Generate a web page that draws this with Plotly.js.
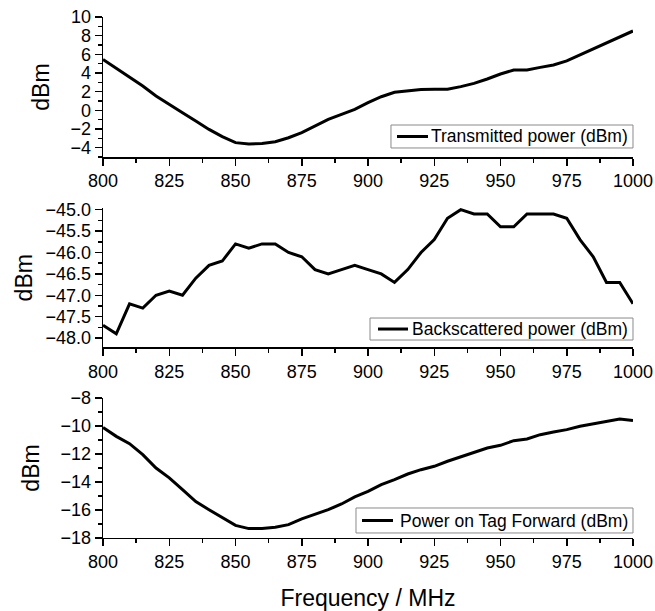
<!DOCTYPE html>
<html>
<head>
<meta charset="utf-8">
<script src="https://cdn.plot.ly/plotly-3.0.1.min.js"></script>
<style>html,body{margin:0;padding:0;background:#fff;}#chart{width:655px;height:611px;}</style>
</head>
<body>
<div id="chart"></div>
<script>
const frequency = [800,805,810,815,820,825,830,835,840,845,850,855,860,865,870,875,880,885,890,895,900,905,910,915,920,925,930,935,940,945,950,955,960,965,970,975,980,985,990,995,1000];

const transmittedPower = [5.46,4.5,3.6,2.6,1.54,0.68,-0.25,-1.14,-2.04,-2.82,-3.46,-3.6,-3.54,-3.36,-2.93,-2.39,-1.68,-0.96,-0.43,0.11,0.82,1.46,1.93,2.11,2.22,2.25,2.25,2.54,2.89,3.36,3.89,4.32,4.32,4.6,4.86,5.29,5.93,6.64,7.29,7.89,8.5];

const backscatteredPower = [-47.7,-47.9,-47.2,-47.3,-47.0,-46.9,-47.0,-46.6,-46.3,-46.2,-45.8,-45.9,-45.8,-45.8,-46.0,-46.1,-46.4,-46.5,-46.4,-46.3,-46.4,-46.5,-46.7,-46.4,-46.0,-45.7,-45.2,-45.0,-45.1,-45.1,-45.4,-45.4,-45.1,-45.1,-45.1,-45.2,-45.7,-46.1,-46.7,-46.7,-47.2];

const tagForwardPower = [-10.1,-10.74,-11.26,-12.05,-13.0,-13.7,-14.55,-15.4,-15.98,-16.57,-17.1,-17.33,-17.33,-17.24,-17.05,-16.64,-16.33,-15.98,-15.57,-15.07,-14.67,-14.19,-13.83,-13.43,-13.12,-12.88,-12.52,-12.21,-11.93,-11.57,-11.38,-11.05,-10.93,-10.62,-10.43,-10.26,-10.02,-9.83,-9.67,-9.5,-9.6];

const seriesNames = ["Transmitted power (dBm)", "Backscattered power (dBm)", "Power on Tag Forward (dBm)"];
const yTitle = "dBm";
const xTitle = "Frequency / MHz";

const FONT = "Liberation Sans, Arial, sans-serif";
const lineStyle = {color: "#000", width: 3};

const traces = [
  {x: frequency, y: transmittedPower, name: seriesNames[0], type: "scatter", mode: "lines", line: lineStyle, xaxis: "x", yaxis: "y"},
  {x: frequency, y: backscatteredPower, name: seriesNames[1], type: "scatter", mode: "lines", line: lineStyle, xaxis: "x2", yaxis: "y2"},
  {x: frequency, y: tagForwardPower, name: seriesNames[2], type: "scatter", mode: "lines", line: lineStyle, xaxis: "x3", yaxis: "y3"}
];

function xAxis(anchor, withTitle) {
  const a = {
    domain: [0.1573, 0.9664], anchor: anchor, range: [800, 1000],
    tick0: 800, dtick: 25, ticks: "outside", ticklen: 7, tickwidth: 1.5, tickcolor: "#000",
    showline: true, linecolor: "#000", linewidth: 1.5, showgrid: false, zeroline: false,
    tickfont: {family: FONT, size: 18, color: "#000"},
    minor: {dtick: 12.5, tick0: 800, ticks: "outside", ticklen: 4, tickwidth: 1.5, tickcolor: "#000", showgrid: false}
  };
  if (withTitle) a.title = {text: xTitle, font: {family: FONT, size: 23, color: "#000"}, standoff: 20};
  return a;
}

function yAxis(anchor, domain, range, dtick, minorDtick, fmt, tick0, standoff) {
  return {
    domain: domain, anchor: anchor, range: range,
    tick0: tick0, dtick: dtick, tickformat: fmt,
    ticks: "outside", ticklen: 7, tickwidth: 1.5, tickcolor: "#000",
    showline: true, linecolor: "#000", linewidth: 1.5, showgrid: false, zeroline: false,
    tickfont: {family: FONT, size: 18, color: "#000"},
    title: {text: yTitle, font: {family: FONT, size: 23, color: "#000"}, standoff: standoff},
    minor: {dtick: minorDtick, tick0: tick0, ticks: "outside", ticklen: 4, tickwidth: 1.5, tickcolor: "#000", showgrid: false}
  };
}

// Legend boxes drawn as paper-anchored shapes + text (box: [x0,x1,y0,y1], sample line x0,x1, centre y)
const legendBoxes = [
  {box: [0.5969, 0.9664, 0.7578, 0.7954], sample: [0.6061, 0.6534], cy: 0.7766},
  {box: [0.5649, 0.9664, 0.4435, 0.4795], sample: [0.5771, 0.6229], cy: 0.4615},
  {box: [0.5435, 0.9664, 0.1277, 0.1686], sample: [0.5527, 0.6000], cy: 0.1481}
];

const shapes = [];
const annotations = [];
legendBoxes.forEach((lb, i) => {
  shapes.push({type: "rect", xref: "paper", yref: "paper", x0: lb.box[0], x1: lb.box[1], y0: lb.box[2], y1: lb.box[3],
    line: {color: "#8a8a8a", width: 1}, fillcolor: "#fff", layer: "above"});
  shapes.push({type: "line", xref: "paper", yref: "paper", x0: lb.sample[0], x1: lb.sample[1], y0: lb.cy, y1: lb.cy,
    line: {color: "#000", width: 3}, layer: "above"});
  annotations.push({xref: "paper", yref: "paper", x: 0.9618, xanchor: "right", y: lb.cy, yanchor: "middle",
    text: traces[i].name, showarrow: false, font: {family: FONT, size: 17.5, color: "#000"}});
});

const layout = {
  width: 655, height: 611,
  margin: {l: 0, r: 0, t: 0, b: 0},
  paper_bgcolor: "#fff", plot_bgcolor: "#fff",
  showlegend: false,
  xaxis: xAxis("y", false),
  xaxis2: xAxis("y2", false),
  xaxis3: xAxis("y3", true),
  yaxis: yAxis("x", [0.7430, 0.9722], [-5, 10], 2, 1, "d", 0, 14),
  yaxis2: yAxis("x2", [0.4313, 0.6596], [-48.22, -44.96], 0.5, 0.25, ".1f", -45, 6),
  yaxis3: yAxis("x3", [0.1195, 0.3486], [-18, -8], 2, 1, "d", 0, 14),
  shapes: shapes,
  annotations: annotations
};

Plotly.newPlot("chart", traces, layout, {displayModeBar: false, staticPlot: true});
</script>
</body>
</html>
